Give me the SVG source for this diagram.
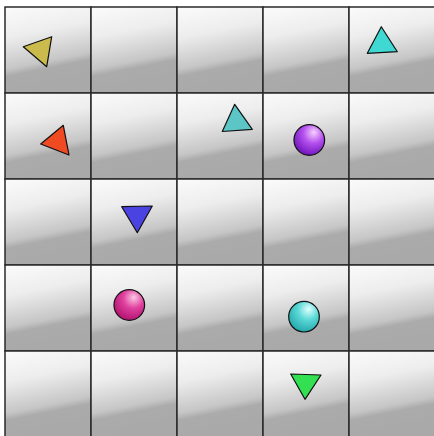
<svg xmlns="http://www.w3.org/2000/svg" width="434" height="436" viewBox="0 0 434 436">
<defs>
<linearGradient id="cellg" x1="0" y1="0" x2="0.2" y2="1">
<stop offset="0" stop-color="#fbfbfb"/>
<stop offset="0.35" stop-color="#ededed"/>
<stop offset="0.7" stop-color="#c6c6c6"/>
<stop offset="0.78" stop-color="#ababab"/>
<stop offset="1" stop-color="#a9a9a9"/>
</linearGradient>
<radialGradient id="sp-purple" cx="0.62" cy="0.3" r="0.75" fx="0.65" fy="0.25">
<stop offset="0" stop-color="#f6d0ff"/>
<stop offset="0.45" stop-color="#b450ee"/>
<stop offset="1" stop-color="#6a10b8"/>
</radialGradient>
<radialGradient id="sp-magenta" cx="0.62" cy="0.3" r="0.75" fx="0.65" fy="0.25">
<stop offset="0" stop-color="#fbc8e4"/>
<stop offset="0.45" stop-color="#e0409e"/>
<stop offset="1" stop-color="#b0106c"/>
</radialGradient>
<radialGradient id="sp-cyan" cx="0.62" cy="0.3" r="0.75" fx="0.65" fy="0.25">
<stop offset="0" stop-color="#e0ffff"/>
<stop offset="0.45" stop-color="#5ad8d6"/>
<stop offset="1" stop-color="#20a4aa"/>
</radialGradient>
</defs>
<style>
.cell{fill:url(#cellg);stroke:#2a2a2a;stroke-width:1.5}
.shape{stroke:#111;stroke-width:1.2;stroke-linejoin:round}
</style>
<rect width="434" height="436" fill="#ffffff"/>
<g id="grid">
<rect class="cell" x="5" y="7" width="86" height="86"/>
<rect class="cell" x="91" y="7" width="86" height="86"/>
<rect class="cell" x="177" y="7" width="86" height="86"/>
<rect class="cell" x="263" y="7" width="86" height="86"/>
<rect class="cell" x="349" y="7" width="86" height="86"/>
<rect class="cell" x="5" y="93" width="86" height="86"/>
<rect class="cell" x="91" y="93" width="86" height="86"/>
<rect class="cell" x="177" y="93" width="86" height="86"/>
<rect class="cell" x="263" y="93" width="86" height="86"/>
<rect class="cell" x="349" y="93" width="86" height="86"/>
<rect class="cell" x="5" y="179" width="86" height="86"/>
<rect class="cell" x="91" y="179" width="86" height="86"/>
<rect class="cell" x="177" y="179" width="86" height="86"/>
<rect class="cell" x="263" y="179" width="86" height="86"/>
<rect class="cell" x="349" y="179" width="86" height="86"/>
<rect class="cell" x="5" y="265" width="86" height="86"/>
<rect class="cell" x="91" y="265" width="86" height="86"/>
<rect class="cell" x="177" y="265" width="86" height="86"/>
<rect class="cell" x="263" y="265" width="86" height="86"/>
<rect class="cell" x="349" y="265" width="86" height="86"/>
<rect class="cell" x="5" y="351" width="86" height="86"/>
<rect class="cell" x="91" y="351" width="86" height="86"/>
<rect class="cell" x="177" y="351" width="86" height="86"/>
<rect class="cell" x="263" y="351" width="86" height="86"/>
<rect class="cell" x="349" y="351" width="86" height="86"/>
</g>
<g id="tri-olive"><polygon class="shape" fill="#cabb4c" points="23.3,46.7 51.7,36.7 46.7,66.7"/></g>
<g id="tri-turquoise"><polygon class="shape" fill="#3fd8d2" points="367.3,53.3 381.3,26.7 397.3,51.7"/></g>
<g id="tri-red"><polygon class="shape" fill="#f04a22" points="40.7,144 63.3,125.3 69,155"/></g>
<g id="tri-teal"><polygon class="shape" fill="#5cc6c6" points="222.3,131.5 234.7,104.3 252.3,129.3"/></g>
<g id="sphere-purple"><circle class="shape" cx="309.3" cy="140" r="15.3" fill="url(#sp-purple)"/></g>
<g id="tri-blue"><polygon class="shape" fill="#4b42e2" points="121.7,206.7 152.3,206 137.3,232.7"/></g>
<g id="sphere-magenta"><circle class="shape" cx="129.3" cy="305" r="15.3" fill="url(#sp-magenta)"/></g>
<g id="sphere-cyan"><circle class="shape" cx="304" cy="316.7" r="15.3" fill="url(#sp-cyan)"/></g>
<g id="tri-green"><polygon class="shape" fill="#33e052" points="290.7,374 321,375 305,399.3"/></g>
<g id="connectors"></g>
</svg>
